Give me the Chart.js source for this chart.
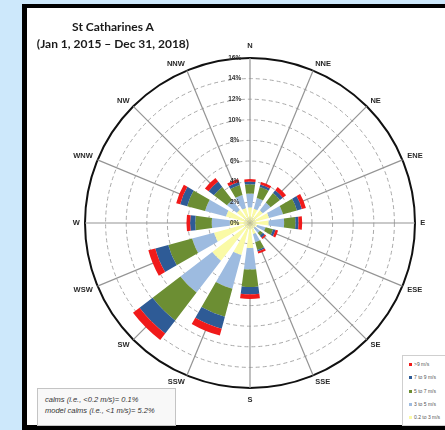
<!DOCTYPE html>
<html>
<head>
<meta charset="utf-8">
<script src="https://cdn.jsdelivr.net/npm/chart.js@4.4.1/dist/chart.umd.min.js"></script>
<style>
  html, body { margin: 0; padding: 0; }
  body { width: 445px; height: 430px; background: #cde8fb; position: relative; overflow: hidden; font-family: "Liberation Sans", Arial, sans-serif; }
  #frame { position: absolute; left: 22px; top: 4px; width: 440px; height: 417px; border-style: solid; border-color: #000; border-width: 4px 0 5px 5px; background: #fff; }
  #chart { position: absolute; left: 0; top: 0; z-index: 1; }
  #title { position: absolute; left: 30px; top: 18px; width: 166px; text-align: center; font: bold 12px Lato, sans-serif; line-height: 17px; color: #1a1a1a; z-index: 2; }
  #calms { position: absolute; left: 37px; top: 388px; width: 130px; height: 31px; padding: 5px 0 0 7px; border: 1px solid #c4c4c4; background: #f8f8f8; font-style: italic; font-size: 7.5px; line-height: 11px; color: #333; z-index: 2; white-space: nowrap; }
  #legend { position: absolute; left: 402px; top: 355px; width: 60px; height: 69px; border: 1px solid #cfcfcf; background: #fff; z-index: 2; }
  #legend div { position: absolute; left: 6px; font-size: 5px; line-height: 6px; color: #555; white-space: nowrap; }
  #legend span { display: inline-block; width: 3px; height: 3px; margin-right: 2px; vertical-align: middle; }
</style>
</head>
<body>
<div id="frame"></div>
<canvas id="chart" width="445" height="430"></canvas>
<div id="title">St Catharines A<br>(Jan 1, 2015 – Dec 31, 2018)</div>
<div id="calms">calms (i.e., &lt;0.2 m/s)= 0.1%<br>model calms (i.e., &lt;1 m/s)= 5.2%</div>
<div id="legend"></div>
<script>
const directions = ["N", "NNE", "NE", "ENE", "E", "ESE", "SE", "SSE", "S", "SSW", "SW", "WSW", "W", "WNW", "NW", "NNW"];
const speedLabels = ["0.2 to 3 m/s", "3 to 5 m/s", "5 to 7 m/s", "7 to 9 m/s", ">9 m/s"];

// frequency (%) per direction for each speed class
const speed02to3 = [1.5, 1.4, 1.55, 1.9, 1.8, 0.7, 0.6, 1.1, 2.4, 3.2, 4.6, 3.6, 1.95, 2.4, 1.6, 1.5];
const speed3to5 = [1.35, 1.1, 0.95, 1.4, 1.5, 0.85, 0.6, 0.8, 2.1, 3.4, 3.9, 2.2, 1.75, 2.1, 1.2, 1.3];
const speed5to7 = [0.9, 1.1, 1.15, 1.4, 1.1, 0.75, 0.35, 0.8, 1.7, 2.8, 3.4, 2.4, 1.6, 1.8, 1.6, 1.0];
const speed7to9 = [0.25, 0.25, 0.35, 0.5, 0.3, 0.25, 0.25, 0.15, 0.7, 1.2, 1.6, 1.3, 0.5, 0.7, 0.65, 0.3];
const speedOver9 = [0.25, 0.25, 0.4, 0.4, 0.35, 0.25, 0.15, 0.2, 0.45, 0.7, 0.8, 0.7, 0.35, 0.4, 0.45, 0.3];

const tickValues = [0, 2, 4, 6, 8, 10, 12, 14, 16];

const colors = ["#fafaa6", "#9dbbe0", "#6c8e33", "#2e5b96", "#f01a1a"];
const wedgeDeg = 15;

// stacked wedges, drawn through the radial scale
const roseBars = {
  id: "roseBars",
  beforeDatasetsDraw(chart) {
    const ctx = chart.ctx;
    const r = chart.scales.r;
    const half = wedgeDeg / 2 * Math.PI / 180;
    ctx.save();
    directions.forEach((dir, i) => {
      const mid = r.getIndexAngle(i) - Math.PI / 2;
      let base = 0;
      chart.data.datasets.forEach(ds => {
        const top = base + ds.data[i];
        const r0 = r.getDistanceFromCenterForValue(base);
        const r1 = r.getDistanceFromCenterForValue(top);
        ctx.beginPath();
        ctx.arc(r.xCenter, r.yCenter, r1, mid - half, mid + half);
        ctx.arc(r.xCenter, r.yCenter, r0, mid + half, mid - half, true);
        ctx.closePath();
        ctx.fillStyle = ds.backgroundColor;
        ctx.fill();
        base = top;
      });
    });
    ctx.restore();
  }
};

const series = [speed02to3, speed3to5, speed5to7, speed7to9, speedOver9];

new Chart(document.getElementById("chart"), {
  type: "radar",
  data: {
    labels: directions,
    datasets: series.map((vals, k) => ({
      label: speedLabels[k],
      data: vals,
      backgroundColor: colors[k],
      borderColor: "transparent",
      borderWidth: 0,
      pointRadius: 0,
      pointHoverRadius: 0,
      fill: false
    }))
  },
  options: {
    responsive: false,
    animation: false,
    events: [],
    layout: { padding: { left: 55, right: 0, top: 44, bottom: 27.5 } },
    plugins: { legend: { display: false }, tooltip: { enabled: false } },
    scales: {
      r: {
        min: -0.02,
        max: 16,
        afterBuildTicks: scale => { scale.ticks = tickValues.map(v => ({ value: v })); },
        grid: {
          circular: true,
          color: ctx => ctx.tick && ctx.tick.value === 16 ? "#111" : "#a8a8a8",
          lineWidth: ctx => ctx.tick && ctx.tick.value === 16 ? 2 : 1
        },
        border: {
          dash: ctx => ctx.tick && ctx.tick.value === 16 ? [] : [4, 3]
        },
        angleLines: { color: "#949494", lineWidth: 1.2 },
        pointLabels: {
          color: "#2a2a2a",
          font: { family: "Liberation Sans", weight: "bold", size: 7.5, lineHeight: 0.5 },
          padding: ctx => (ctx.index % 8 === 0 ? 5 : 0)
        },
        ticks: {
          z: 1,
          showLabelBackdrop: false,
          color: "#333",
          font: { family: "Liberation Sans", weight: "bold", size: 6.5 },
          callback: v => v + "%" + " ".repeat(17)
        }
      }
    }
  },
  plugins: [roseBars]
});

const legendBox = document.getElementById("legend");
for (let k = speedLabels.length - 1; k >= 0; k--) {
  const row = document.createElement("div");
  row.style.top = (5 + (speedLabels.length - 1 - k) * 13.3) + "px";
  row.innerHTML = '<span style="background:' + colors[k] + '"></span>' + speedLabels[k];
  legendBox.appendChild(row);
}
</script>
</body>
</html>
